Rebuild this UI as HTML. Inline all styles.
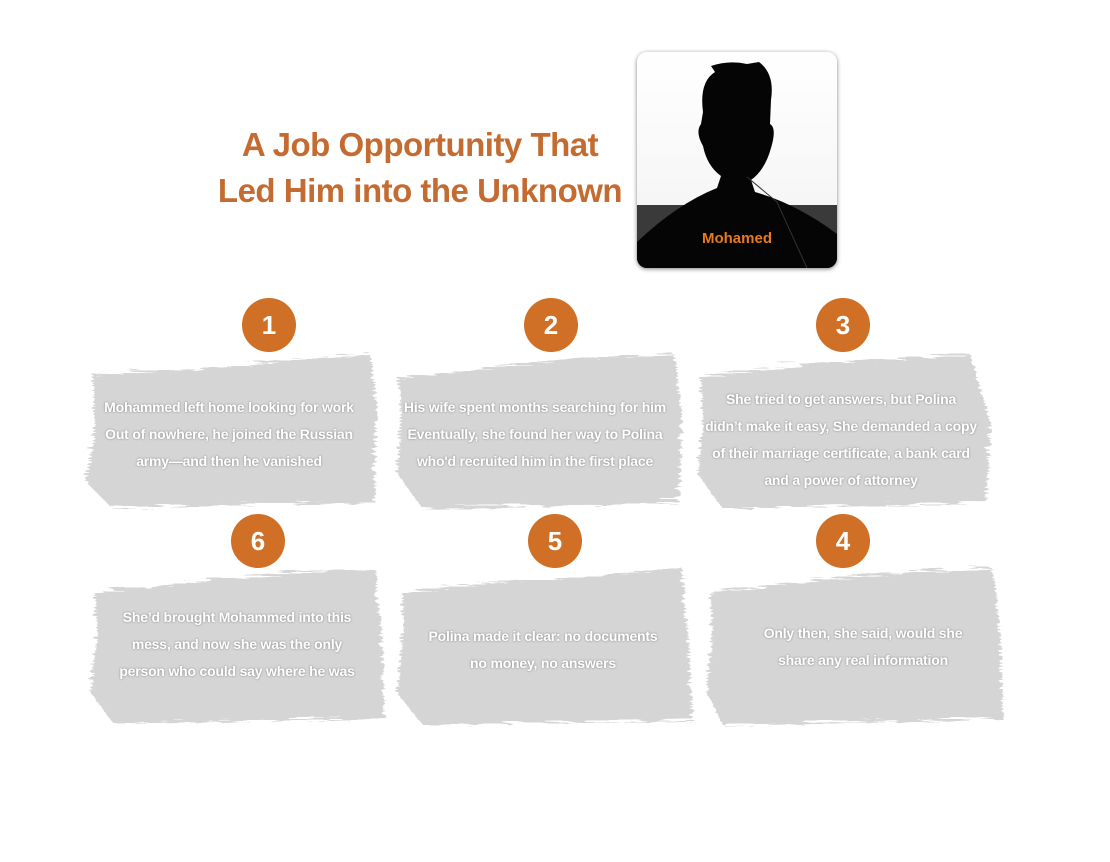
<!DOCTYPE html>
<html><head><meta charset="utf-8"><style>
body{margin:0;width:1110px;height:862px;background:#fff;position:relative;overflow:hidden;font-family:"Liberation Sans",sans-serif}
.t{position:absolute;color:#c46b31;font-weight:bold;font-size:33px;text-align:center;left:170px;width:500px;line-height:46px;top:122px;letter-spacing:-0.5px}
.c{position:absolute;width:54px;height:54px;border-radius:50%;background:#d06f26;color:#fff;font-weight:bold;font-size:26px;text-align:center;line-height:54px}
.b{position:absolute}
.tx{position:absolute;color:#fff;font-size:14px;font-weight:bold;text-align:center;line-height:27px;text-shadow:0 0 2px rgba(0,0,0,.4);white-space:nowrap;letter-spacing:-0.2px}
</style></head><body>
<div class="t">A Job Opportunity That<br>Led Him into the Unknown</div>

<div style="position:absolute;left:637px;top:52px;width:200px;height:216px;border-radius:10px;overflow:hidden;background:linear-gradient(#fff,#f2f2f2);box-shadow:0 1px 4px rgba(0,0,0,.5)">
<div style="position:absolute;left:0;top:153px;width:200px;height:63px;background:#3a3a3a"></div>
<svg width="200" height="216" style="position:absolute;left:0;top:0">
<path d="M66 60 Q62 30 78 20 L74 14 Q92 8 110 12 L122 10 Q138 22 134 48 L133 72 Q140 76 134 96 Q128 118 114 128 L118 140 Q160 152 200 182 L200 216 L0 216 L0 190 Q40 152 80 136 L84 124 Q70 114 66 94 Q58 80 64 72 Z" fill="#050505"/>
<path d="M110 125 L140 150 L170 216" stroke="#333" stroke-width="1" fill="none"/>
</svg>
<div style="position:absolute;left:0;top:178px;width:200px;text-align:center;color:#e67a20;font-weight:bold;font-size:15px">Mohamed</div>
</div>

<svg class="b" style="left:0;top:0" width="1110" height="862">
<defs><filter id="r"><feTurbulence baseFrequency="0.02 0.3" numOctaves="2" seed="3"/><feDisplacementMap in="SourceGraphic" scale="10"/></filter></defs>
<g fill="#d5d5d5" filter="url(#r)">
<path d="M90 372 L200 366 L300 356 L368 352 L374 400 L372 500 L250 502 L110 506 L84 480 L92 430 Z"/>
<path d="M396 375 L500 364 L600 354 L672 352 L680 420 L676 500 L560 503 L420 506 L394 470 L398 420 Z"/>
<path d="M698 375 L800 362 L900 356 L968 352 L988 420 L984 500 L850 504 L720 506 L694 470 L700 420 Z"/>
<path d="M92 590 L200 578 L300 570 L372 566 L380 640 L382 716 L250 718 L110 720 L88 690 L94 630 Z"/>
<path d="M400 590 L500 580 L600 572 L680 566 L686 640 L690 718 L560 720 L420 722 L394 690 L400 630 Z"/>
<path d="M708 590 L800 580 L900 570 L990 566 L998 640 L1000 716 L860 720 L720 722 L704 690 L710 630 Z"/>
</g></svg>

<div class="c" style="left:242px;top:298px">1</div>
<div class="c" style="left:524px;top:298px">2</div>
<div class="c" style="left:816px;top:298px">3</div>
<div class="c" style="left:231px;top:514px">6</div>
<div class="c" style="left:528px;top:514px">5</div>
<div class="c" style="left:816px;top:514px">4</div>

<div class="tx" style="left:80px;width:298px;top:394px">Mohammed left home looking for work<br>Out of nowhere, he joined the Russian<br>army—and then he vanished</div>
<div class="tx" style="left:390px;width:290px;top:394px">His wife spent months searching for him<br>Eventually, she found her way to Polina<br>who'd recruited him in the first place</div>
<div class="tx" style="left:692px;width:298px;top:386px">She tried to get answers, but Polina<br>didn’t make it easy, She demanded a copy<br>of their marriage certificate, a bank card<br>and a power of attorney</div>
<div class="tx" style="left:88px;width:298px;top:604px">She’d brought Mohammed into this<br>mess, and now she was the only<br>person who could say where he was</div>
<div class="tx" style="left:393px;width:300px;top:623px">Polina made it clear: no documents<br>no money, no answers</div>
<div class="tx" style="left:713px;width:300px;top:620px">Only then, she said, would she<br>share any real information</div>
</body></html>
